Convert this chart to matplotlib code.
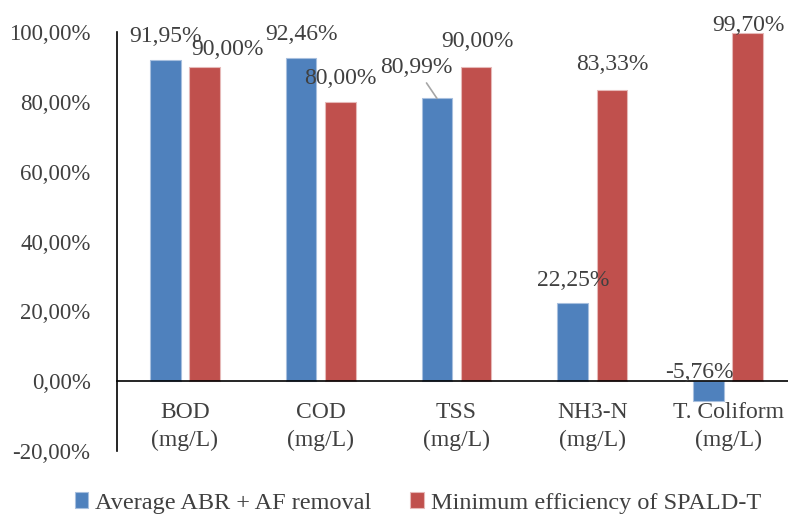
import matplotlib
matplotlib.use("Agg")
import matplotlib.pyplot as plt
import numpy as np

categories = ["BOD\n(mg/L)", "COD\n(mg/L)", "TSS\n(mg/L)", "NH3-N\n(mg/L)", "T. Coliform\n(mg/L)"]
abr_af = [91.95, 92.46, 80.99, 22.25, -5.76]
spald_t = [90.00, 80.00, 90.00, 83.33, 99.70]
series_names = ["Average ABR + AF removal", "Minimum efficiency of SPALD-T"]
yticks = [-20, 0, 20, 40, 60, 80, 100]

# label offsets in pixels (dx, dy) from bar end
off_blue = [(0, 24), (0, 24), (-21, 31), (0, 23), (-9, 9)]
off_red = [(23, 17), (0, 23), (1, 25), (0, 26), (1, 8)]

BLUE = "#4F81BD"
RED = "#C0504D"
TXT = "#404040"
FONT = "Liberation Serif"
plt.rcParams["font.family"] = FONT

fig = plt.figure(figsize=(7.88, 5.17), dpi=100)
ax = fig.add_axes([117 / 788, 1 - 451 / 517, (796 - 117) / 788, (451 - 32) / 517])

for s in ["top", "right"]:
    ax.spines[s].set_visible(False)
ax.spines["bottom"].set_position(("data", 0))
ax.spines["bottom"].set_color("black")
ax.spines["bottom"].set_linewidth(1.2)
ax.spines["left"].set_color("black")
ax.spines["left"].set_linewidth(1.2)

x = np.arange(len(categories))
w = 0.225
d = 0.144
b1 = ax.bar(x - d, abr_af, w, color=BLUE, edgecolor="#A7BFDE", linewidth=0.8, label=series_names[0])
b2 = ax.bar(x + d, spald_t, w, color=RED, edgecolor="#E6B9B8", linewidth=0.8, label=series_names[1])

def fmt(v):
    return f"{v:.2f}".replace(".", ",") + "%"

for i, v in enumerate(abr_af):
    yref = max(v, 0)
    kw = {}
    if categories[i].startswith("TSS"):
        kw = dict(arrowprops=dict(arrowstyle="-", color="#A6A6A6", lw=1.2, shrinkA=2, shrinkB=0))
    ax.annotate(fmt(v), (x[i] - d, yref), xytext=off_blue[i], textcoords="offset pixels",
                ha="center", va="center", fontsize=17, color=TXT, **kw)
for i, v in enumerate(spald_t):
    ax.annotate(fmt(v), (x[i] + d, v), xytext=off_red[i], textcoords="offset pixels",
                ha="center", va="center", fontsize=17, color=TXT)

ax.set_xlim(-0.5, len(categories) - 0.5)
ax.set_ylim(-20, 100)
ax.set_yticks(yticks)
ax.set_yticklabels([f"{t:.2f}".replace(".", ",") + "%" for t in yticks], fontsize=16.5, color=TXT)
ax.set_xticks(x)
ax.set_xticklabels(categories, fontsize=17, color=TXT, linespacing=1.4)
ax.tick_params(axis="y", length=0, pad=19)
ax.tick_params(axis="x", length=0, pad=15)

fig.legend(handles=[b1, b2], loc="center", bbox_to_anchor=(418 / 788, 1 - 503 / 517),
           ncol=2, frameon=False, fontsize=17.5, handlelength=0.55, handleheight=0.6,
           handletextpad=0.3, columnspacing=1.6, labelcolor=TXT, borderaxespad=0)

fig.savefig("out.png", dpi=100)
